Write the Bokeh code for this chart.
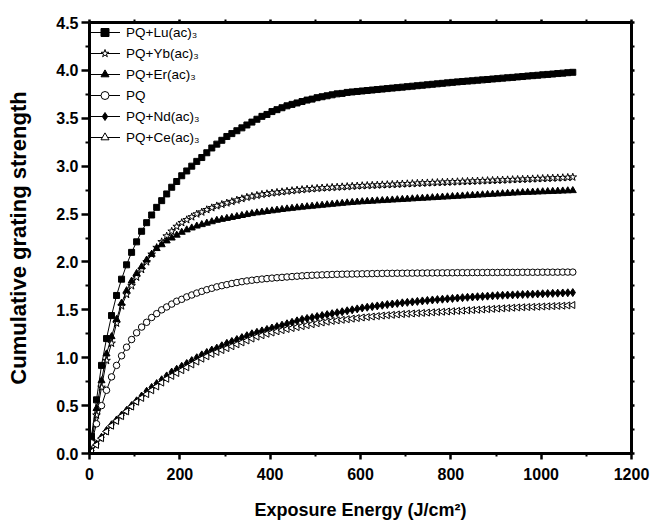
import math
from bokeh.plotting import figure
from bokeh.models import Range1d, LinearAxis, FixedTicker, PrintfTickFormatter, ColumnDataSource
from bokeh.embed import file_html
from bokeh.resources import INLINE

exposure = [4.4, 15.5, 26.6, 37.7, 48.8, 59.9, 71.0, 82.1, 93.2, 104.3,
            115.4, 126.5, 137.6, 148.7, 159.8, 170.9, 182.0, 193.1, 204.2, 215.3,
            226.4, 237.5, 248.6, 259.7, 270.8, 281.9, 293.0, 304.1, 315.2, 326.3,
            337.4, 348.5, 359.6, 370.7, 381.8, 392.9, 404.0, 415.1, 426.2, 437.3,
            448.4, 459.5, 470.6, 481.7, 492.8, 503.9, 515.0, 526.1, 537.2, 548.3,
            559.4, 570.5, 581.6, 592.7, 603.8, 614.9, 626.0, 637.1, 648.2, 659.3,
            670.4, 681.5, 692.6, 703.7, 714.8, 725.9, 737.0, 748.1, 759.2, 770.3,
            781.4, 792.5, 803.6, 814.7, 825.8, 836.9, 848.0, 859.1, 870.2, 881.3,
            892.4, 903.5, 914.6, 925.7, 936.8, 947.9, 959.0, 970.1, 981.2, 992.3,
            1003.4, 1014.5, 1025.6, 1036.7, 1047.8, 1058.9, 1070.0]

pq_lu = [0.18, 0.56, 0.92, 1.20, 1.44, 1.65, 1.82, 1.97, 2.10, 2.21,
         2.32, 2.41, 2.49, 2.57, 2.64, 2.71, 2.78, 2.84, 2.90, 2.95,
         3.00, 3.05, 3.09, 3.14, 3.19, 3.23, 3.27, 3.31, 3.34, 3.37,
         3.40, 3.43, 3.46, 3.49, 3.52, 3.54, 3.57, 3.59, 3.61, 3.63,
         3.645, 3.66, 3.675, 3.69, 3.70, 3.715, 3.725, 3.735, 3.745, 3.755,
         3.76, 3.77, 3.775, 3.78, 3.785, 3.79, 3.795, 3.80, 3.805, 3.81,
         3.815, 3.82, 3.825, 3.83, 3.835, 3.84, 3.845, 3.85, 3.855, 3.86,
         3.865, 3.87, 3.875, 3.88, 3.884, 3.888, 3.892, 3.897, 3.901, 3.905,
         3.910, 3.914, 3.919, 3.923, 3.927, 3.932, 3.936, 3.941, 3.945, 3.949,
         3.954, 3.958, 3.962, 3.967, 3.971, 3.976, 3.980]

pq_yb = [0.13, 0.40, 0.69, 0.97, 1.15, 1.36, 1.54, 1.66, 1.75, 1.84,
         1.92, 2.00, 2.08, 2.15, 2.21, 2.27, 2.32, 2.37, 2.41, 2.44,
         2.47, 2.50, 2.52, 2.545, 2.565, 2.585, 2.60, 2.615, 2.63, 2.645,
         2.66, 2.675, 2.685, 2.695, 2.705, 2.712, 2.72, 2.726, 2.732, 2.738,
         2.744, 2.75, 2.755, 2.76, 2.764, 2.768, 2.772, 2.775, 2.778, 2.781,
         2.784, 2.787, 2.790, 2.793, 2.796, 2.798, 2.800, 2.802, 2.805, 2.807,
         2.809, 2.811, 2.814, 2.816, 2.818, 2.821, 2.823, 2.825, 2.827, 2.829,
         2.831, 2.833, 2.835, 2.837, 2.839, 2.841, 2.843, 2.845, 2.847, 2.849,
         2.851, 2.853, 2.855, 2.857, 2.859, 2.861, 2.863, 2.865, 2.867, 2.869,
         2.871, 2.873, 2.875, 2.877, 2.879, 2.882, 2.885]

pq_er = [0.16, 0.47, 0.76, 1.04, 1.22, 1.40, 1.57, 1.70, 1.80, 1.88,
         1.95, 2.02, 2.08, 2.14, 2.18, 2.22, 2.25, 2.28, 2.31, 2.335,
         2.355, 2.375, 2.39, 2.405, 2.42, 2.435, 2.445, 2.455, 2.465, 2.475,
         2.485, 2.495, 2.505, 2.513, 2.52, 2.527, 2.534, 2.541, 2.548, 2.554,
         2.56, 2.566, 2.572, 2.577, 2.582, 2.587, 2.592, 2.597, 2.602, 2.607,
         2.612, 2.617, 2.621, 2.625, 2.629, 2.632, 2.635, 2.638, 2.641, 2.644,
         2.647, 2.650, 2.653, 2.656, 2.659, 2.662, 2.665, 2.668, 2.671, 2.674,
         2.677, 2.680, 2.683, 2.686, 2.689, 2.692, 2.695, 2.698, 2.701, 2.704,
         2.707, 2.710, 2.713, 2.716, 2.719, 2.722, 2.725, 2.727, 2.729, 2.731,
         2.733, 2.735, 2.737, 2.739, 2.741, 2.743, 2.745]

pq = [0.11, 0.31, 0.50, 0.66, 0.80, 0.92, 1.02, 1.11, 1.19, 1.26,
      1.32, 1.37, 1.42, 1.46, 1.50, 1.53, 1.56, 1.59, 1.61, 1.635,
      1.655, 1.675, 1.693, 1.71, 1.725, 1.74, 1.752, 1.763, 1.775, 1.785,
      1.794, 1.802, 1.809, 1.815, 1.821, 1.826, 1.831, 1.835, 1.839, 1.843,
      1.847, 1.851, 1.855, 1.858, 1.861, 1.863, 1.865, 1.867, 1.869, 1.871,
      1.872, 1.873, 1.874, 1.875, 1.876, 1.877, 1.878, 1.879, 1.880, 1.881,
      1.881, 1.882, 1.882, 1.883, 1.883, 1.884, 1.884, 1.885, 1.885, 1.886,
      1.886, 1.887, 1.887, 1.888, 1.888, 1.888, 1.889, 1.889, 1.889, 1.890,
      1.890, 1.890, 1.891, 1.891, 1.891, 1.891, 1.892, 1.892, 1.892, 1.892,
      1.893, 1.893, 1.893, 1.893, 1.894, 1.894, 1.894]

pq_nd = [0.03, 0.10, 0.17, 0.24, 0.30, 0.35, 0.40, 0.45, 0.50, 0.55,
         0.60, 0.65, 0.69, 0.73, 0.77, 0.81, 0.85, 0.88, 0.91, 0.94,
         0.97, 1.00, 1.03, 1.055, 1.08, 1.10, 1.125, 1.15, 1.17, 1.19,
         1.21, 1.23, 1.25, 1.265, 1.28, 1.295, 1.31, 1.325, 1.34, 1.355,
         1.37, 1.385, 1.40, 1.41, 1.42, 1.43, 1.44, 1.45, 1.46, 1.47,
         1.48, 1.49, 1.50, 1.51, 1.52, 1.527, 1.534, 1.541, 1.548, 1.555,
         1.561, 1.567, 1.573, 1.578, 1.583, 1.588, 1.593, 1.598, 1.603, 1.607,
         1.611, 1.615, 1.619, 1.623, 1.627, 1.631, 1.634, 1.637, 1.640, 1.643,
         1.646, 1.649, 1.652, 1.654, 1.656, 1.658, 1.660, 1.662, 1.664, 1.666,
         1.668, 1.670, 1.672, 1.674, 1.676, 1.678, 1.680]

pq_ce = [0.02, 0.09, 0.16, 0.23, 0.29, 0.34, 0.39, 0.44, 0.49, 0.54,
         0.58, 0.62, 0.66, 0.70, 0.74, 0.78, 0.81, 0.84, 0.87, 0.90,
         0.93, 0.96, 0.99, 1.015, 1.04, 1.06, 1.08, 1.10, 1.12, 1.14,
         1.16, 1.18, 1.20, 1.22, 1.235, 1.25, 1.263, 1.276, 1.288, 1.30,
         1.31, 1.32, 1.33, 1.34, 1.35, 1.36, 1.368, 1.376, 1.384, 1.39,
         1.396, 1.402, 1.408, 1.414, 1.42, 1.425, 1.43, 1.435, 1.44, 1.444,
         1.448, 1.452, 1.456, 1.459, 1.462, 1.465, 1.468, 1.471, 1.474, 1.477,
         1.48, 1.483, 1.486, 1.489, 1.492, 1.495, 1.498, 1.501, 1.504, 1.507,
         1.510, 1.513, 1.516, 1.519, 1.522, 1.525, 1.527, 1.529, 1.531, 1.533,
         1.535, 1.537, 1.539, 1.541, 1.543, 1.546, 1.550]

labels = ["PQ+Lu(ac)\u2083", "PQ+Yb(ac)\u2083", "PQ+Er(ac)\u2083", "PQ",
          "PQ+Nd(ac)\u2083", "PQ+Ce(ac)\u2083"]
series = [pq_lu, pq_yb, pq_er, pq, pq_nd, pq_ce]
markers = ["square", "star", "triangle", "circle", "diamond", "triangle"]
sizes = [6, 8, 7, 6.5, 8, 7]
fills = ["black", "white", "black", "white", "black", "white"]
angles = [0, 0, 0, 0, 0, math.pi / 2]

x_ticks = [0, 200, 400, 600, 800, 1000, 1200]
x_minor = [100, 300, 500, 700, 900, 1100]
y_ticks = [0.0, 0.5, 1.0, 1.5, 2.0, 2.5, 3.0, 3.5, 4.0, 4.5]
y_minor = [0.25, 0.75, 1.25, 1.75, 2.25, 2.75, 3.25, 3.75, 4.25]

FONT = "Liberation Sans"

p = figure(width=650, height=522, x_range=Range1d(0, 1200), y_range=Range1d(0, 4.5),
           output_backend="svg", toolbar_location=None,
           min_border_left=89, min_border_right=19, min_border_top=22, min_border_bottom=69,
           x_axis_label="Exposure Energy (J/cm\u00b2)", y_axis_label="Cumulative grating strength")
p.grid.visible = False
p.outline_line_color = None
p.background_fill_color = "white"
p.border_fill_color = "white"

for ys, lab, mk, sz, fc, ang in zip(series, labels, markers, sizes, fills, angles):
    src = ColumnDataSource(dict(x=exposure, y=ys, a=[ang] * len(ys)))
    p.line("x", "y", source=src, line_color="black", line_width=1, legend_label=lab)
    p.scatter("x", "y", source=src, marker=mk, size=sz, fill_color=fc, line_color="black",
              line_width=1, angle="a", angle_units="rad", legend_label=lab)

def style(ax):
    ax.axis_line_width = 3
    ax.axis_line_color = "black"
    ax.major_tick_line_width = 2.5
    ax.minor_tick_line_width = 2
    ax.major_tick_in = 0
    ax.minor_tick_in = 0
    ax.major_label_text_font = FONT
    ax.major_label_text_font_style = "bold"
    ax.major_label_text_font_size = "16px"
    ax.major_label_text_color = "black"
    ax.axis_label_text_font = FONT
    ax.axis_label_text_font_style = "bold"
    ax.axis_label_text_color = "black"

xa = p.xaxis[0]
xa.ticker = FixedTicker(ticks=x_ticks, minor_ticks=x_minor)
style(xa)
xa.major_tick_out = 6
xa.minor_tick_out = 3
xa.major_label_standoff = 8
xa.axis_label_text_font_size = "18px"
xa.axis_label_standoff = 17

ya = p.yaxis[0]
ya.ticker = FixedTicker(ticks=y_ticks, minor_ticks=y_minor)
ya.formatter = PrintfTickFormatter(format="%.1f")
style(ya)
ya.major_tick_out = 8
ya.minor_tick_out = 4
ya.major_label_standoff = 3
ya.axis_label_text_font_size = "22px"
ya.axis_label_standoff = 22

top = LinearAxis(ticker=FixedTicker(ticks=x_ticks, minor_ticks=x_minor))
style(top)
top.major_label_overrides = {t: "" for t in x_ticks}
top.major_tick_out = 3
top.minor_tick_out = 3
top.major_label_standoff = 0
p.add_layout(top, "above")

right = LinearAxis(ticker=FixedTicker(ticks=y_ticks, minor_ticks=y_minor))
style(right)
right.major_label_overrides = {t: "" for t in y_ticks}
right.major_tick_out = 3
right.minor_tick_out = 3
right.major_label_standoff = 0
p.add_layout(right, "right")

lg = p.legend[0]
lg.location = "top_left"
lg.border_line_color = None
lg.background_fill_alpha = 0
lg.margin = 0
lg.padding = 3
lg.spacing = 1
lg.glyph_width = 31
lg.glyph_height = 20
lg.label_height = 20
lg.label_standoff = 6
lg.label_text_font = FONT
lg.label_text_font_size = "13.5px"
lg.label_text_color = "black"

open("out.html", "w").write(file_html(p, INLINE))
